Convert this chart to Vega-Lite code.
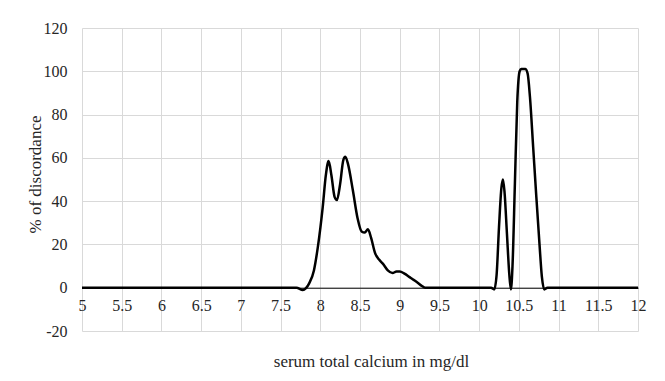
{
  "$schema": "https://vega.github.io/schema/vega-lite/v6.json",
  "width": 556,
  "height": 303,
  "autosize": "none",
  "padding": {"left": 82, "top": 28, "right": 27, "bottom": 50},
  "background": "white",
  "config": {
    "view": {"stroke": null},
    "font": "Liberation Serif",
    "axis": {
      "labelFont": "Liberation Serif",
      "titleFont": "Liberation Serif",
      "labelFontSize": 16,
      "titleFontSize": 17,
      "titleFontWeight": "normal",
      "labelColor": "#262626",
      "titleColor": "#262626",
      "gridColor": "#d9d9d9",
      "gridWidth": 1,
      "ticks": false
    }
  },
  "data": {
    "values": [
      {"ca": 5, "pct": 0},
      {"ca": 7.7, "pct": 0},
      {"ca": 7.78, "pct": -1},
      {"ca": 7.86, "pct": 2},
      {"ca": 7.92, "pct": 8},
      {"ca": 7.97, "pct": 19},
      {"ca": 8.03, "pct": 37},
      {"ca": 8.07, "pct": 52},
      {"ca": 8.105, "pct": 58.5},
      {"ca": 8.14, "pct": 52},
      {"ca": 8.18, "pct": 42},
      {"ca": 8.21, "pct": 40.5},
      {"ca": 8.25, "pct": 48},
      {"ca": 8.29, "pct": 59},
      {"ca": 8.315, "pct": 60.5},
      {"ca": 8.35, "pct": 57},
      {"ca": 8.41, "pct": 45},
      {"ca": 8.47, "pct": 32},
      {"ca": 8.52, "pct": 26},
      {"ca": 8.56, "pct": 25.5},
      {"ca": 8.6, "pct": 27},
      {"ca": 8.64, "pct": 23},
      {"ca": 8.69, "pct": 16},
      {"ca": 8.74, "pct": 13},
      {"ca": 8.79, "pct": 11},
      {"ca": 8.85, "pct": 8},
      {"ca": 8.91, "pct": 6.8},
      {"ca": 8.96, "pct": 7.5},
      {"ca": 9.0, "pct": 7.5},
      {"ca": 9.06, "pct": 6.5},
      {"ca": 9.12, "pct": 5},
      {"ca": 9.18, "pct": 3.5},
      {"ca": 9.23, "pct": 2.2},
      {"ca": 9.28, "pct": 0.8},
      {"ca": 9.32, "pct": 0},
      {"ca": 10.15, "pct": 0},
      {"ca": 10.19, "pct": -0.8},
      {"ca": 10.22, "pct": 6},
      {"ca": 10.25, "pct": 28},
      {"ca": 10.28, "pct": 46},
      {"ca": 10.3, "pct": 50},
      {"ca": 10.32, "pct": 44},
      {"ca": 10.35, "pct": 25},
      {"ca": 10.38, "pct": 6},
      {"ca": 10.4, "pct": -0.8},
      {"ca": 10.42, "pct": 10},
      {"ca": 10.45, "pct": 48},
      {"ca": 10.48, "pct": 86},
      {"ca": 10.51, "pct": 100},
      {"ca": 10.53, "pct": 101},
      {"ca": 10.58, "pct": 101},
      {"ca": 10.61, "pct": 99},
      {"ca": 10.64, "pct": 88},
      {"ca": 10.68, "pct": 65},
      {"ca": 10.72, "pct": 42},
      {"ca": 10.76, "pct": 20},
      {"ca": 10.79, "pct": 5},
      {"ca": 10.82, "pct": -0.8},
      {"ca": 10.86, "pct": 0},
      {"ca": 12, "pct": 0}
    ]
  },
  "mark": {"type": "line", "color": "black", "strokeWidth": 2.5, "interpolate": "monotone"},
  "encoding": {
    "x": {
      "field": "ca",
      "type": "quantitative",
      "scale": {"domain": [5, 12], "nice": false, "zero": false},
      "axis": {
        "title": "serum total calcium in mg/dl",
        "values": [5, 5.5, 6, 6.5, 7, 7.5, 8, 8.5, 9, 9.5, 10, 10.5, 11, 11.5, 12],
        "format": "~g",
        "offset": -43.3,
        "domain": true,
        "domainColor": "black",
        "labelPadding": 10,
        "labelFlush": false,
        "titleX": 289,
        "titleY": 74,
        "titleBaseline": "middle",
        "titleAnchor": null
      }
    },
    "y": {
      "field": "pct",
      "type": "quantitative",
      "scale": {"domain": [-20, 120], "nice": false},
      "axis": {
        "title": "% of discordance",
        "values": [-20, 0, 20, 40, 60, 80, 100, 120],
        "labelExpr": "'' + datum.value",
        "domain": false,
        "labelPadding": 15,
        "titleX": -47,
        "titleY": 146,
        "titleBaseline": "middle",
        "titleAlign": "center"
      }
    }
  }
}
